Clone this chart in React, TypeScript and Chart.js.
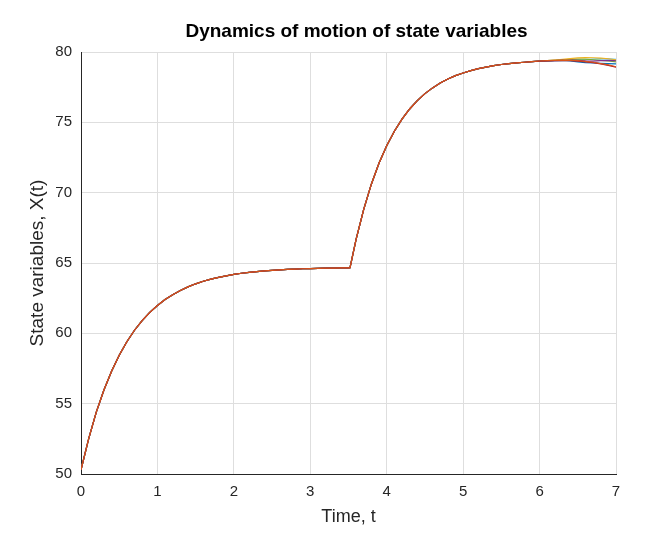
import React, { useEffect, useRef } from 'react';
import { Chart, registerables } from 'chart.js';

Chart.register(...registerables);

// time grid (kink at 3.52 where the second step begins)
const timeA = [
  0, 0.1, 0.2, 0.3, 0.4, 0.5, 0.6, 0.7, 0.8, 0.9, 1.0, 1.1, 1.2, 1.3, 1.4, 1.5, 1.6, 1.7, 1.8, 1.9,
  2.0, 2.1, 2.2, 2.3, 2.4, 2.5, 2.6, 2.7, 2.8, 2.9, 3.0, 3.1, 3.2, 3.3, 3.4, 3.5, 3.52,
  3.6, 3.7, 3.8, 3.9, 4.0, 4.1, 4.2, 4.3, 4.4, 4.5, 4.6, 4.7, 4.8, 4.9,
  5.0, 5.1, 5.2, 5.3, 5.4, 5.5, 5.6, 5.7, 5.8, 5.9
];
const timeB = [6.0, 6.1, 6.2, 6.3, 6.4, 6.5, 6.6, 6.7, 6.8, 6.9, 7.0];

// common part of all state variables up to t = 5.9
const commonX = [
  50.3, 52.5, 54.4, 55.97, 57.3, 58.44, 59.4, 60.22, 60.9, 61.49, 61.98, 62.4, 62.75, 63.05, 63.3,
  63.52, 63.7, 63.85, 63.98, 64.09, 64.19, 64.27, 64.33, 64.39, 64.44, 64.48, 64.51, 64.54, 64.57,
  64.59, 64.6, 64.62, 64.63, 64.64, 64.65, 64.66, 64.67,
  66.69, 68.83, 70.62, 72.11, 73.34, 74.37, 75.23, 75.95, 76.54, 77.04, 77.45, 77.79, 78.08, 78.32,
  78.51, 78.68, 78.82, 78.93, 79.03, 79.11, 79.17, 79.23, 79.27, 79.31
];

// where the variables split apart, t = 6..7
const tailOrange = [79.36, 79.38, 79.4, 79.41, 79.4, 79.38, 79.33, 79.27, 79.18, 79.08, 78.95];
const tailBlue = [79.35, 79.37, 79.39, 79.4, 79.36, 79.3, 79.25, 79.22, 79.2, 79.18, 79.15];
const tailYellow = [79.36, 79.38, 79.42, 79.47, 79.53, 79.58, 79.6, 79.59, 79.57, 79.52, 79.45];
const tailPurple = [79.35, 79.36, 79.38, 79.4, 79.42, 79.41, 79.37, 79.35, 79.38, 79.4, 79.38];
const tailGreen = [79.36, 79.39, 79.41, 79.44, 79.47, 79.5, 79.49, 79.45, 79.4, 79.36, 79.3];
const tailCyan = [79.36, 79.38, 79.4, 79.43, 79.45, 79.44, 79.46, 79.5, 79.53, 79.51, 79.48];
const tailDarkRed = [79.35, 79.37, 79.39, 79.4, 79.39, 79.35, 79.3, 79.24, 79.15, 79.05, 78.92];

const xTicks = [0, 1, 2, 3, 4, 5, 6, 7];
const yTicks = [50, 55, 60, 65, 70, 75, 80];

const seriesList = [
  { tail: tailOrange, color: '#D95319' },
  { tail: tailDarkRed, color: '#A2142F' },
  { tail: tailBlue, color: '#0072BD' },
  { tail: tailYellow, color: '#EDB120' },
  { tail: tailPurple, color: '#7E2F8E' },
  { tail: tailGreen, color: '#77AC30' },
  { tail: tailCyan, color: '#4DBEEE' }
];

const TITLE = 'Dynamics of motion of state variables';
const FONT = "'Liberation Sans', Arial, Helvetica, sans-serif";

// title is drawn a bit right of the plot centre, like the original figure
const titlePlugin = {
  id: 'figTitle',
  afterDraw(chart: Chart) {
    const c = chart.ctx;
    const area = chart.chartArea;
    c.save();
    c.font = `bold 19px ${FONT}`;
    c.fillStyle = '#000000';
    c.textAlign = 'center';
    c.textBaseline = 'middle';
    c.fillText(TITLE, (area.left + area.right) / 2 + 8, 32);
    c.restore();
  }
};

const App: React.FC = () => {
  const chartRef = useRef<HTMLCanvasElement | null>(null);
  const chartInstance = useRef<Chart | null>(null);

  useEffect(() => {
    if (!chartRef.current) return;
    if (chartInstance.current) chartInstance.current.destroy();
    const ctx = chartRef.current.getContext('2d');
    if (!ctx) return;

    const times = timeA.concat(timeB);
    const datasets = seriesList.map((s, i) => {
      const vals = commonX.concat(s.tail);
      return {
        label: 'x' + (i + 1),
        data: times.map((t, k) => ({ x: t, y: vals[k] })),
        borderColor: s.color,
        backgroundColor: s.color,
        borderWidth: 1.2,
        pointRadius: 0,
        tension: 0,
        fill: false
      };
    });

    chartInstance.current = new Chart(ctx, {
      type: 'line',
      data: { datasets },
      plugins: [titlePlugin],
      options: {
        animation: false,
        responsive: true,
        maintainAspectRatio: false,
        layout: { padding: { left: 0, right: 51, top: 52, bottom: 0 } },
        plugins: {
          legend: { display: false },
          tooltip: { enabled: false },
          title: { display: false }
        },
        scales: {
          x: {
            type: 'linear',
            min: 0,
            max: 7,
            afterBuildTicks: (scale: any) => {
              scale.ticks = xTicks.map(v => ({ value: v }));
            },
            afterFit: (scale: any) => {
              scale.height = 83;
            },
            ticks: {
              color: '#262626',
              font: { family: FONT, size: 15 },
              padding: 9,
              maxRotation: 0
            },
            grid: { color: '#dedede', drawTicks: false, lineWidth: 1 },
            border: { color: '#262626', width: 1 },
            title: {
              display: true,
              text: 'Time, t',
              color: '#262626',
              font: { family: FONT, size: 18, lineHeight: 1.2 },
              padding: { top: 0, bottom: 29 }
            }
          },
          y: {
            type: 'linear',
            min: 50,
            max: 80,
            afterBuildTicks: (scale: any) => {
              scale.ticks = yTicks.map(v => ({ value: v }));
            },
            afterFit: (scale: any) => {
              scale.width = 81;
            },
            ticks: {
              color: '#262626',
              font: { family: FONT, size: 15 },
              padding: 9
            },
            grid: { color: '#dedede', drawTicks: false, lineWidth: 1 },
            border: { color: '#262626', width: 1 },
            title: {
              display: true,
              text: 'State variables, X(t)',
              color: '#262626',
              font: { family: FONT, size: 19, lineHeight: 1.2 },
              padding: { top: 26, bottom: 0 }
            }
          }
        }
      }
    });

    return () => {
      if (chartInstance.current) {
        chartInstance.current.destroy();
        chartInstance.current = null;
      }
    };
  }, []);

  return (
    <div style={{ position: 'fixed', left: 0, top: 0, width: '667px', height: '557px', background: '#ffffff' }}>
      <canvas ref={chartRef} />
    </div>
  );
};

export default App;
